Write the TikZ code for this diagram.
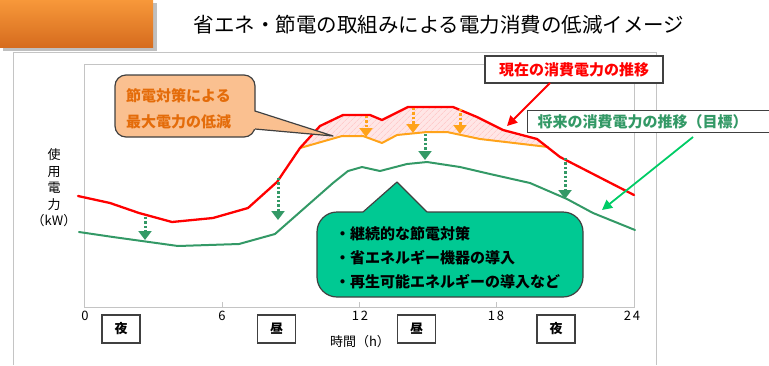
\documentclass[tikz,border=0pt]{standalone}
\usepackage{fontspec}
\setmainfont{Noto Sans CJK JP}
\usetikzlibrary{arrows.meta,patterns.meta}
\definecolor{cred}{HTML}{FF0000}
\definecolor{corange}{HTML}{FFA31A}
\definecolor{cgreen}{HTML}{339966}
\definecolor{cbright}{HTML}{00CC66}
\definecolor{cteal}{HTML}{00C993}
\definecolor{cpeach}{HTML}{FAC090}
\definecolor{cbrown}{HTML}{E46C0A}
\definecolor{cframe}{HTML}{C4C4C4}
\definecolor{cbord}{HTML}{404040}
\definecolor{cpink}{HTML}{FFE6E6}
\definecolor{chatch}{HTML}{FFBFBF}
\begin{document}
\begin{tikzpicture}[x=1pt,y=-1pt,
  curve/.style={line width=2pt, line join=round, line cap=round},
  dotarrow/.style={line width=3pt, dash pattern=on 2.4pt off 2pt, -{Triangle[width=13pt,length=9pt]}},
  daybox/.style={draw=cbord, line width=1.3pt, fill=white, minimum width=38pt, minimum height=28pt, inner sep=0pt, font=\bfseries\fontsize{13}{13}\selectfont},
  ticklbl/.style={font=\fontsize{13}{13}\selectfont, inner sep=0pt},
  coltext/.style={anchor=west, inner sep=0pt, font=\bfseries\fontsize{15}{15}\selectfont},
  callbord/.style={draw=cbord, line width=1.2pt}
]
\useasboundingbox (0,0) rectangle (769,365);
% header
\fill[black,opacity=0.25] (3,3) rectangle (157,51);
\shade[top color={rgb,255:red,247;green,152;blue,58}, bottom color={rgb,255:red,214;green,108;blue,30}] (0,0) rectangle (153,47);
\node[font=\fontsize{20.5}{20.5}\selectfont, inner sep=0pt] (title) at (439,25) {省エネ・節電の取組みによる電力消費の低減イメージ};
% frames
\draw[cframe, line width=1pt] (13,365) -- (13,52) -- (656,52) -- (656,365);
\draw[cframe, line width=1pt] (84,64) rectangle (634,307);
\foreach \tx in {222,359,496} \draw[cframe, line width=1pt] (\tx,302) -- (\tx,307);
% pink reduction area
\path[fill=cpink] (300,148) -- (320,126) -- (343,115) -- (370,115) -- (382,120) -- (408,107) -- (453,107) -- (477,117) -- (503,130) -- (537,139) -- (548,147)
  -- (480,139) -- (447,132) -- (427,132) -- (397,135) -- (382,143) -- (363,136) -- (342,136) -- cycle;
\path[pattern={Lines[angle=45,distance=4pt,line width=0.5pt]}, pattern color=chatch] (300,148) -- (320,126) -- (343,115) -- (370,115) -- (382,120) -- (408,107) -- (453,107) -- (477,117) -- (503,130) -- (537,139) -- (548,147)
  -- (480,139) -- (447,132) -- (427,132) -- (397,135) -- (382,143) -- (363,136) -- (342,136) -- cycle;
% curves
\draw[curve, cgreen] (79,232) -- (113,237) -- (178,246) -- (239,244) -- (275,234) -- (300,212) -- (333,183) -- (348,171) -- (362,167) -- (380,171) -- (407,164) -- (427,162) -- (460,167) -- (490,174) -- (530,183) -- (567,199) -- (593,213) -- (635,230);
\draw[curve, corange] (300,148) -- (342,136) -- (363,136) -- (382,143) -- (397,135) -- (427,132) -- (447,132) -- (480,139) -- (548,147);
\draw[curve, cred, line width=2.3pt] (78,196) -- (110,203) -- (139,213) -- (172,222) -- (213,218) -- (248,208) -- (277,182) -- (300,148) -- (320,126) -- (343,115) -- (370,115) -- (382,120) -- (408,107) -- (453,107) -- (477,117) -- (503,130) -- (537,139) -- (560,157) -- (634,195);
% dotted arrows
\coordinate (oa1) at (366,116); \coordinate (ob1) at (366,137);
\coordinate (oa2) at (413,108); \coordinate (ob2) at (413,133);
\coordinate (oa3) at (460,109); \coordinate (ob3) at (460,134);
\draw[dotarrow, corange] (oa1) -- (ob1);
\draw[dotarrow, corange] (oa2) -- (ob2);
\draw[dotarrow, corange] (oa3) -- (ob3);
\coordinate (ga1) at (145,217); \coordinate (gb1) at (145,240);
\coordinate (ga2) at (278,178); \coordinate (gb2) at (278,220);
\coordinate (ga3) at (425,134); \coordinate (gb3) at (425,160);
\coordinate (ga4) at (565,158); \coordinate (gb4) at (565,199);
\draw[dotarrow, cgreen] (ga1) -- (gb1);
\draw[dotarrow, cgreen] (ga2) -- (gb2);
\draw[dotarrow, cgreen] (ga3) -- (gb3);
\draw[dotarrow, cgreen] (ga4) -- (gb4);
% orange callout
\filldraw[fill=cpeach, callbord, rounded corners=11pt] (115,75) rectangle (255,137);
\fill[cpeach] (253,111) -- (333,136) -- (253,129) -- cycle;
\draw[callbord, line join=round] (255,111) -- (333,136) -- (255,129);
\node[coltext, text=cbrown] (co1a) at (126,96) {節電対策による};
\node[coltext, text=cbrown] (co1b) at (126,122) {最大電力の低減};
% green callout
\filldraw[fill=cteal, callbord, rounded corners=20pt] (317,212) rectangle (583,297);
\fill[cteal] (362,213.5) -- (397,182) -- (428,213.5) -- cycle;
\draw[callbord, line join=round] (363,212) -- (397,182) -- (427,212);
\node[coltext] (co2a) at (335,234) {・継続的な節電対策};
\node[coltext] (co2b) at (335,258) {・省エネルギー機器の導入};
\node[coltext] (co2c) at (335,282) {・再生可能エネルギーの導入など};
% labels
\node[draw=cbord, line width=1.3pt, fill=white, minimum width=178pt, minimum height=27pt, inner sep=0pt, text=cred, font=\bfseries\fontsize{15}{15}\selectfont] (lblnow) at (574,69.5) {現在の消費電力の推移};
\node[draw=cbord, line width=1.3pt, fill=white, anchor=north west, minimum height=22pt, text width=250pt, inner xsep=10pt, inner ysep=0pt, align=left, text=cgreen, font=\bfseries\fontsize{15}{15}\selectfont] (lblfut) at (527,110) {将来の消費電力の推移（目標）};
\coordinate (rstart) at (550,83);
\coordinate (rtip) at (507,126);
\draw[cred, line width=1.8pt, -{Triangle[width=10pt,length=10pt]}] (rstart) -- (rtip);
\coordinate (gstart) at (693,137);
\coordinate (gtip) at (602,210);
\draw[cbright, line width=1.8pt, -{Triangle[width=10pt,length=10pt]}] (gstart) -- (gtip);
% axes labels
\node[ticklbl] (t0) at (85,316) {0};
\node[ticklbl] (t6) at (222,316) {6};
\node[ticklbl] (t12) at (360,316) {1\hspace{2pt}2};
\node[ticklbl] (t18) at (496,316) {1\hspace{2pt}8};
\node[ticklbl] (t24) at (632,316) {2\hspace{2pt}4};
\node[daybox] (n1) at (121,329) {夜};
\node[daybox] (d1) at (276.5,329) {昼};
\node[daybox] (d2) at (416.5,329) {昼};
\node[daybox] (n2) at (556,329) {夜};
\node[ticklbl] (xlab) at (360,342) {時間（h）};
\node[align=center, inner sep=0pt, font=\fontsize{13}{16.5}\selectfont] (ylab) at (54,188) {使\\用\\電\\力\\（kW）};
\end{tikzpicture}
\end{document}
